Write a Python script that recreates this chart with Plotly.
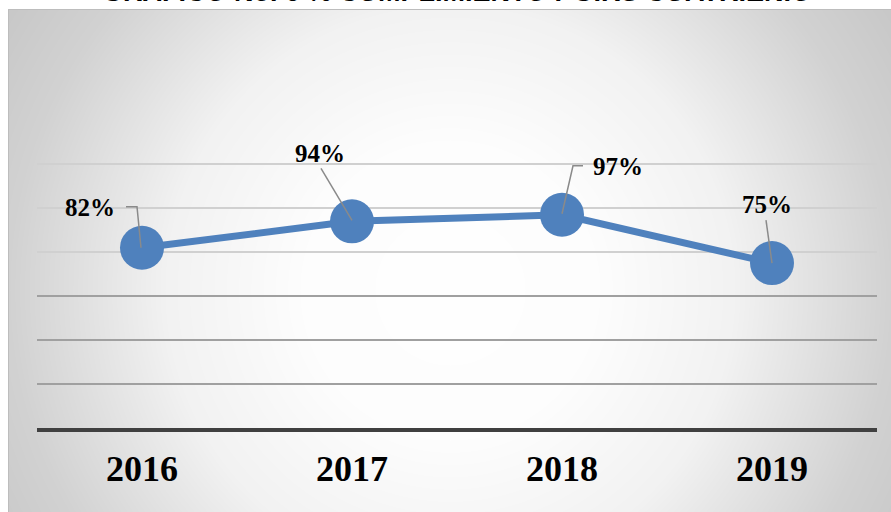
import base64
import struct
import zlib

import numpy as np
import plotly.graph_objects as go

# data
years = [2016, 2017, 2018, 2019]
cumplimiento = [0.82, 0.94, 0.97, 0.75]
etiquetas = ['82%', '94%', '97%', '75%']

titulo = 'GRAFICO No. 6 % CUMPLIMIENTO PGIRS CUATRIENIO'

W, H = 891, 512
L, R, T, B = 37, 877, 162, 428   # plot area in pixels
azul = '#4f81bd'


def png_chunk(tag, data):
    return struct.pack('>I', len(data)) + tag + data + struct.pack('>I', zlib.crc32(tag + data) & 0xffffffff)


def gradient_png(w, h, cx, cy):
    # radial grey -> white background like the excel chart area
    yy, xx = np.mgrid[0:h, 0:w]
    r = np.hypot(xx - cx, yy - cy)
    v = np.interp(r, [0, 150, 285, 440, 540, 700], [255, 253, 242, 210, 198, 190]).astype(np.uint8)
    raw = b''.join(b'\x00' + row.tobytes() for row in v)
    png = b'\x89PNG\r\n\x1a\n'
    png += png_chunk(b'IHDR', struct.pack('>IIBBBBB', w, h, 8, 0, 0, 0, 0))
    png += png_chunk(b'IDAT', zlib.compress(raw, 9))
    png += png_chunk(b'IEND', b'')
    return 'data:image/png;base64,' + base64.b64encode(png).decode()


def px2paper_x(p):
    return (p - L) / (R - L)


def px2paper_y(p):
    return (B - p) / (B - T)


fig = go.Figure()

fig.add_trace(go.Scatter(
    x=years, y=cumplimiento, mode='lines+markers',
    line=dict(color=azul, width=7),
    marker=dict(color=azul, size=44),
    hoverinfo='skip', showlegend=False,
))

# label offsets (pixels) and leader lines relative to each point
offsets = [(-52, 40), (-32, 68), (56, 48), (-5, 59)]
leaders = ['M-1,0 L-5,41 L-16,41', 'M0,1 L-31,53', 'M0,1 L11,49 L21,49', 'M0,0 L-6,43']

for yr, val, txt, (dx, dy), path in zip(years, cumplimiento, etiquetas, offsets, leaders):
    fig.add_shape(type='path', xref='x', yref='y', xsizemode='pixel', ysizemode='pixel',
                  xanchor=yr, yanchor=val, path=path,
                  line=dict(color='#8a8a8a', width=1.5), layer='above')
    fig.add_annotation(x=yr, y=val, text=txt, showarrow=False, xshift=dx, yshift=dy,
                       xanchor='center', yanchor='middle',
                       font=dict(family='Liberation Serif', size=25, color='black', weight='bold'))

# title, half cut by the top edge as in the reference
fig.add_annotation(text=titulo, xref='paper', yref='paper', x=px2paper_x(457), y=px2paper_y(9),
                   xanchor='center', yanchor='bottom', showarrow=False,
                   font=dict(family='Liberation Sans', size=27, color='black', weight='bold'))

# chart area background + frame
fig.add_layout_image(
    source=gradient_png(W - 8, H - 9, 442, 281),
    xref='paper', yref='paper', x=px2paper_x(8), y=px2paper_y(9),
    sizex=(W - 8) / (R - L), sizey=(H - 9) / (B - T),
    xanchor='left', yanchor='top', sizing='stretch', layer='below',
)
fig.add_shape(type='rect', xref='paper', yref='paper',
              x0=px2paper_x(8.5), x1=px2paper_x(W + 2), y0=px2paper_y(9.5), y1=px2paper_y(H + 2),
              line=dict(color='#bdbdbd', width=1), fillcolor='rgba(0,0,0,0)', layer='below')

fig.update_layout(
    width=W, height=H,
    margin=dict(l=L, r=W - R, t=T, b=H - B),
    paper_bgcolor='white', plot_bgcolor='rgba(0,0,0,0)',
    xaxis=dict(range=[2015.5, 2019.5], tickvals=years, ticktext=[str(y) for y in years],
               showgrid=False, zeroline=False, showline=True, linecolor='#404040', linewidth=4,
               ticks='', ticklabelstandoff=6,
               tickfont=dict(family='Liberation Serif', size=36, color='black', weight='bold')),
    yaxis=dict(range=[0, 1.21], tickvals=[0.2, 0.4, 0.6], showticklabels=False,
               gridcolor='#a0a0a0', gridwidth=2, zeroline=False,
               minor=dict(tickmode='array', tickvals=[0.8, 1.0, 1.2], showgrid=True,
                          gridcolor='#d0d0d0', gridwidth=1.5, ticks='')),
)

fig.write_html('out.html', config={'displayModeBar': False},
               post_script="document.body.style.margin='0';document.body.style.overflow='hidden';")
